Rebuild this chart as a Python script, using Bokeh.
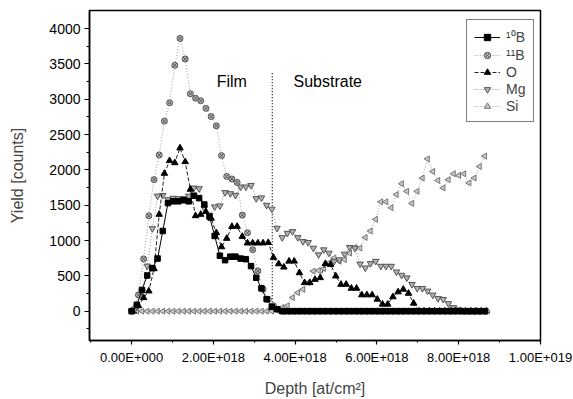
import math
from bokeh.plotting import figure
from bokeh.models import Range1d, FixedTicker, Legend, LegendItem, Label
from bokeh.embed import file_html
from bokeh.resources import INLINE

# Depth in units of 1e18 at/cm^2
depth_a = [0.000, 0.127, 0.254, 0.381, 0.508, 0.635, 0.762, 0.889, 1.016, 1.143,
           1.270, 1.397, 1.524, 1.651, 1.778, 1.905, 2.032, 2.159, 2.286, 2.413,
           2.540, 2.667, 2.794, 2.921, 3.048, 3.175, 3.302, 3.429, 3.556, 3.683,
           3.810, 3.937, 4.064, 4.191, 4.318, 4.445, 4.572, 4.699, 4.826, 4.953,
           5.080, 5.207, 5.334, 5.461, 5.588, 5.715, 5.842, 5.969, 6.096, 6.223,
           6.350, 6.477, 6.604, 6.731, 6.858, 6.985, 7.112, 7.239, 7.366, 7.493,
           7.620, 7.747, 7.874, 8.001, 8.128, 8.255, 8.382, 8.509, 8.636]
depth_b = [0.040, 0.167, 0.294, 0.421, 0.548, 0.675, 0.802, 0.929, 1.056, 1.183,
           1.310, 1.437, 1.564, 1.691, 1.818, 1.945, 2.072, 2.199, 2.326, 2.453,
           2.580, 2.707, 2.834, 2.961, 3.088, 3.215, 3.342, 3.469, 3.596, 3.723,
           3.850, 3.977, 4.104, 4.231, 4.358, 4.485, 4.612, 4.739, 4.866, 4.993,
           5.120, 5.247, 5.374, 5.501, 5.628, 5.755, 5.882, 6.009, 6.136, 6.263,
           6.390, 6.517, 6.644, 6.771, 6.898, 7.025, 7.152, 7.279, 7.406, 7.533,
           7.660, 7.787, 7.914, 8.041, 8.168, 8.295, 8.422, 8.549, 8.676]

yield_b10 = [0, 90, 300, 505, 610, 745, 1135, 1530, 1555, 1555,
             1570, 1555, 1635, 1600, 1510, 1340, 1065, 785, 722, 772,
             772, 744, 736, 638, 473, 323, 169, 62, 28, 0,
             0, 0, 0, 0, 0, 0, 0, 0, 0, 0,
             0, 0, 0, 0, 0, 0, 0, 0, 0, 0,
             0, 0, 0, 0, 0, 0, 0, 0, 0, 0,
             0, 0, 0, 0, 0, 0, 0, 0, 0]
yield_b11 = [20, 230, 740, 1350, 1862, 2212, 2690, 2950, 3480, 3860,
             3570, 3077, 3014, 2979, 2871, 2755, 2623, 2202, 1907, 1871,
             1823, 1360, 1110, 870, 570, 310, 168, 76, 20, 0,
             0, 0, 0, 0, 0, 0, 0, 0, 0, 0,
             0, 0, 0, 0, 0, 0, 0, 0, 0, 0,
             0, 0, 0, 0, 0, 0, 0, 0, 0, 0,
             0, 0, 0, 0, 0, 0, 0, 0, 0]
yield_o = [0, 76, 190, 285, 600, 1370, 1950, 2130, 2100, 2310,
           2115, 1725, 1350, 1370, 1408, 1314, 1110, 910, 1030, 1198,
           1200, 1057, 964, 964, 964, 964, 970, 760, 669, 623,
           707, 707, 543, 403, 403, 449, 473, 673, 660, 497,
           379, 379, 323, 323, 230, 230, 230, 168, 98, 98,
           202, 272, 309, 252, 112, 0, 0, 0, 0, 0,
           0, 0, 0, 0, 0, 0, 0, 0, 0]
yield_mg = [0, 60, 280, 640, 1170, 1630, 1640, 1580, 1600, 1595,
            1595, 1630, 1745, 1735, 1455, 1360, 1478, 1492, 1680, 1665,
            1641, 1759, 1759, 1781, 1595, 1605, 1500, 1445, 1174, 1043,
            1104, 1128, 1043, 987, 973, 893, 800, 870, 823, 707,
            729, 809, 903, 893, 669, 613, 675, 707, 637, 637,
            637, 557, 510, 473, 379, 323, 323, 286, 230, 182,
            168, 108, 52, 20, 0, 0, 0, 0, 0]
yield_si = [0, 0, 0, 0, 0, 0, 0, 0, 0, 0,
            0, 0, 0, 0, 0, 0, 0, 0, 0, 0,
            0, 0, 0, 0, 0, 0, 0, 0, 20, 52,
            76, 192, 262, 309, 403, 567, 575, 603, 683, 753,
            707, 729, 823, 903, 893, 1043, 1136, 1300, 1548, 1548,
            1464, 1651, 1805, 1697, 1525, 1697, 1885, 2156, 1978, 1851,
            1745, 1862, 1945, 1922, 1945, 1815, 1885, 2048, 2194]

boundary_depth = [3.44, 3.44]
boundary_yield = [0, 3390]

series_names = ["\u00b9\u2070B", "\u00b9\u00b9B", "O", "Mg", "Si"]

x_ticks = [0, 2, 4, 6, 8, 10]
x_minor = [-1, 1, 3, 5, 7, 9]
x_tick_labels = ["0.00E+000", "2.00E+018", "4.00E+018", "6.00E+018", "8.00E+018", "1.00E+019"]
y_ticks = [0, 500, 1000, 1500, 2000, 2500, 3000, 3500, 4000]
y_minor = [-250, 250, 750, 1250, 1750, 2250, 2750, 3250, 3750]

FONT = "Liberation Sans"

p = figure(width=573, height=399, output_backend="svg", toolbar_location=None,
           x_range=Range1d(-1.03, 10.0), y_range=Range1d(-415, 4256),
           min_border_left=89, min_border_right=33, min_border_top=10, min_border_bottom=56)
p.background_fill_color = "white"
p.border_fill_color = "white"
p.xgrid.visible = False
p.ygrid.visible = False
p.outline_line_color = "black"
p.outline_line_width = 1.5

p.xaxis.ticker = FixedTicker(ticks=x_ticks, minor_ticks=x_minor)
p.xaxis.major_label_overrides = {t: l for t, l in zip(x_ticks, x_tick_labels)}
p.yaxis.ticker = FixedTicker(ticks=y_ticks, minor_ticks=y_minor)

for ax in (p.xaxis[0], p.yaxis[0]):
    ax.axis_line_color = "black"
    ax.axis_line_width = 1.5
    ax.major_tick_line_color = "black"
    ax.minor_tick_line_color = "black"
    ax.major_tick_line_width = 1.2
    ax.major_tick_in = 0
    ax.minor_tick_in = 0
    ax.major_label_text_font = FONT
    ax.axis_label_text_font = FONT
    ax.axis_label_text_font_style = "normal"
    ax.axis_label_text_font_size = "16px"
    ax.major_label_text_color = "black"

p.xaxis.major_tick_out = 4
p.xaxis.minor_tick_out = 2
p.xaxis.major_label_standoff = 5
p.xaxis.major_label_text_font_size = "13px"
p.xaxis.axis_label = "Depth [at/cm\u00b2]"
p.xaxis.axis_label_standoff = 12

p.yaxis.major_tick_out = 5
p.yaxis.minor_tick_out = 3
p.yaxis.major_label_standoff = 4
p.yaxis.major_label_text_font_size = "14px"
p.yaxis.axis_label = "Yield [counts]"
p.yaxis.axis_label_standoff = 20

# boundary line between film and substrate
p.line(boundary_depth, boundary_yield, line_color="black", line_dash="1 2", line_width=1.2)

# Si
l_si = p.line(depth_a, yield_si, line_color="#9a9a9a", line_dash="1 2", line_width=1)
s_si = p.scatter(depth_a, yield_si, marker="triangle", angle=math.pi / 2, size=6,
                 line_color="#777777", fill_color="#c8c8c8", line_width=1)
# Mg
l_mg = p.line(depth_a, yield_mg, line_color="#8a8a8a", line_dash="1 2", line_width=1)
s_mg = p.scatter(depth_a, yield_mg, marker="inverted_triangle", size=6.5,
                 line_color="#555555", fill_color="#b0b0b0", line_width=1)
# O
l_o = p.line(depth_b, yield_o, line_color="#222222", line_dash="4 2", line_width=1)
s_o = p.scatter(depth_b, yield_o, marker="triangle", size=6.5,
                line_color="black", fill_color="black")
# 11B
l_b11 = p.line(depth_b, yield_b11, line_color="#9a9a9a", line_dash="1 2", line_width=1)
s_b11 = p.scatter(depth_b, yield_b11, marker="circle_x", size=6,
                  line_color="#555555", fill_color="#b5b5b5", line_width=1)
# 10B
l_b10 = p.line(depth_a, yield_b10, line_color="black", line_width=1)
s_b10 = p.scatter(depth_a, yield_b10, marker="square", size=5.5,
                  line_color="black", fill_color="black")

legend = Legend(items=[
    LegendItem(label=series_names[0], renderers=[l_b10, s_b10]),
    LegendItem(label=series_names[1], renderers=[l_b11, s_b11]),
    LegendItem(label=series_names[2], renderers=[l_o, s_o]),
    LegendItem(label=series_names[3], renderers=[l_mg, s_mg]),
    LegendItem(label=series_names[4], renderers=[l_si, s_si]),
], location=(377, 218))
legend.border_line_color = "black"
legend.border_line_width = 1.2
legend.background_fill_color = "white"
legend.background_fill_alpha = 1.0
legend.label_text_font = FONT
legend.label_text_font_size = "14px"
legend.glyph_width = 26
legend.glyph_height = 16
legend.label_height = 16
legend.label_standoff = 6
legend.spacing = 1
legend.padding = 7
legend.margin = 0
p.add_layout(legend)

p.add_layout(Label(x=2.08, y=3247, text="Film", text_font=FONT, text_font_size="16px",
                   text_color="black", text_align="left", text_baseline="alphabetic"))
p.add_layout(Label(x=3.96, y=3247, text="Substrate", text_font=FONT, text_font_size="16px",
                   text_color="black", text_align="left", text_baseline="alphabetic"))

open("out.html", "w").write(file_html(p, INLINE))
